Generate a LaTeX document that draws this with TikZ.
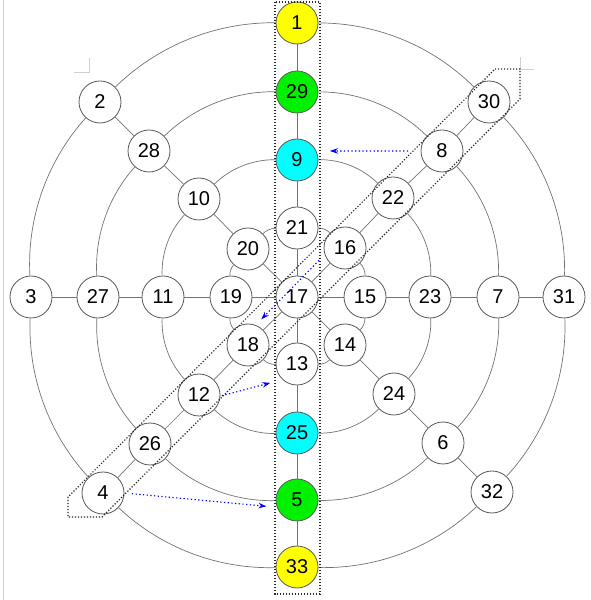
\documentclass[tikz,border=0pt]{standalone}
\usepackage{fontspec}
\setmainfont{Liberation Sans}
\usetikzlibrary{arrows.meta}
\definecolor{cyanrgb}{RGB}{0,255,255}
\definecolor{greenrgb}{RGB}{0,240,0}
\definecolor{yellowrgb}{RGB}{255,255,0}
\begin{document}
\begin{tikzpicture}[x=1pt,y=1pt,
  vtx/.style={circle,draw=black!65,line width=0.8pt,fill=white,minimum size=42pt,inner sep=0pt,font=\fontsize{20}{24}\selectfont},
  spoke/.style={draw=black!55,line width=0.7pt},
  ringarc/.style={spoke,bend right=22.5,looseness=0.885},
  grp/.style={draw=black!85,line width=1.1pt,dash pattern=on 1.2pt off 1.8pt},
  flow/.style={draw=blue,line width=1.1pt,dash pattern=on 1.3pt off 2.4pt,-{Stealth[length=8pt,width=5.5pt]}},
  cropmk/.style={draw=black!18,line width=0.8pt}
]
\useasboundingbox (0,0) rectangle (591,600);
\fill[white] (0,0) rectangle (591,600);
\draw[cropmk] (3,0) -- (3,600);
\draw[cropmk] (74,528) -- (89,528) -- (89,542);
\draw[cropmk] (520,543) -- (520,531) -- (534,531);
% centre
\node[vtx] (n17) at (297,303) {17};
% ring 1
\node[vtx] (n21) at (297,372) {21};
\node[vtx] (n20) at (248,351) {20};
\node[vtx] (n19) at (231,303) {19};
\node[vtx] (n18) at (248,255) {18};
\node[vtx] (n13) at (297,236) {13};
\node[vtx] (n14) at (345,255) {14};
\node[vtx] (n15) at (365,303) {15};
\node[vtx] (n16) at (345,352) {16};
% ring 2
\node[vtx,fill=cyanrgb] (n9) at (297,440) {9};
\node[vtx] (n10) at (199,401) {10};
\node[vtx] (n11) at (163,303) {11};
\node[vtx] (n12) at (199,205) {12};
\node[vtx,fill=cyanrgb] (n25) at (297,167) {25};
\node[vtx] (n24) at (394,206) {24};
\node[vtx] (n23) at (430,303) {23};
\node[vtx] (n22) at (393,402) {22};
% ring 3
\node[vtx,fill=greenrgb] (n29) at (297,508) {29};
\node[vtx] (n28) at (149,449) {28};
\node[vtx] (n27) at (98,303) {27};
\node[vtx] (n26) at (150,156) {26};
\node[vtx,fill=greenrgb] (n5) at (297,100) {5};
\node[vtx] (n6) at (443,157) {6};
\node[vtx] (n7) at (498,303) {7};
\node[vtx] (n8) at (442,449) {8};
% ring 4
\node[vtx,fill=yellowrgb] (n1) at (297,577) {1};
\node[vtx] (n2) at (100,498) {2};
\node[vtx] (n3) at (31,303) {3};
\node[vtx] (n4) at (103,107) {4};
\node[vtx,fill=yellowrgb] (n33) at (297,33) {33};
\node[vtx] (n32) at (492,108) {32};
\node[vtx] (n31) at (564,303) {31};
\node[vtx] (n30) at (489,498) {30};
% spokes
\draw[spoke] (n17) -- (n21) -- (n9) -- (n29) -- (n1);
\draw[spoke] (n17) -- (n20) -- (n10) -- (n28) -- (n2);
\draw[spoke] (n17) -- (n19) -- (n11) -- (n27) -- (n3);
\draw[spoke] (n17) -- (n18) -- (n12) -- (n26) -- (n4);
\draw[spoke] (n17) -- (n13) -- (n25) -- (n5) -- (n33);
\draw[spoke] (n17) -- (n14) -- (n24) -- (n6) -- (n32);
\draw[spoke] (n17) -- (n15) -- (n23) -- (n7) -- (n31);
\draw[spoke] (n17) -- (n16) -- (n22) -- (n8) -- (n30);
% rings
\foreach \a/\b in {n21/n20,n20/n19,n19/n18,n18/n13,n13/n14,n14/n15,n15/n16,n16/n21,
                   n9/n10,n10/n11,n11/n12,n12/n25,n25/n24,n24/n23,n23/n22,n22/n9,
                   n29/n28,n28/n27,n27/n26,n26/n5,n5/n6,n6/n7,n7/n8,n8/n29,
                   n1/n2,n2/n3,n3/n4,n4/n33,n33/n32,n32/n31,n31/n30,n30/n1}
  \draw[ringarc] (\a) to (\b);
% groups
\draw[grp] (275,598) rectangle (320,6);
\draw[grp] (495,531) -- (520,531) -- (520,501) -- (102,83) -- (68,83) -- (68,103) -- cycle;
% flows
\draw[flow,shorten <=12.5pt,shorten >=13.5pt] (n8.180) -- (n9.25);
\draw[flow,shorten <=8pt,shorten >=8pt] (n16.198) -- (n18.69);
\draw[flow,shorten <=1.5pt,shorten >=12.5pt] (n12.-3) -- (n13.227);
\draw[flow,shorten <=7.5pt,shorten >=10.5pt] (n4.0) -- (n5.200);
\end{tikzpicture}
\end{document}
